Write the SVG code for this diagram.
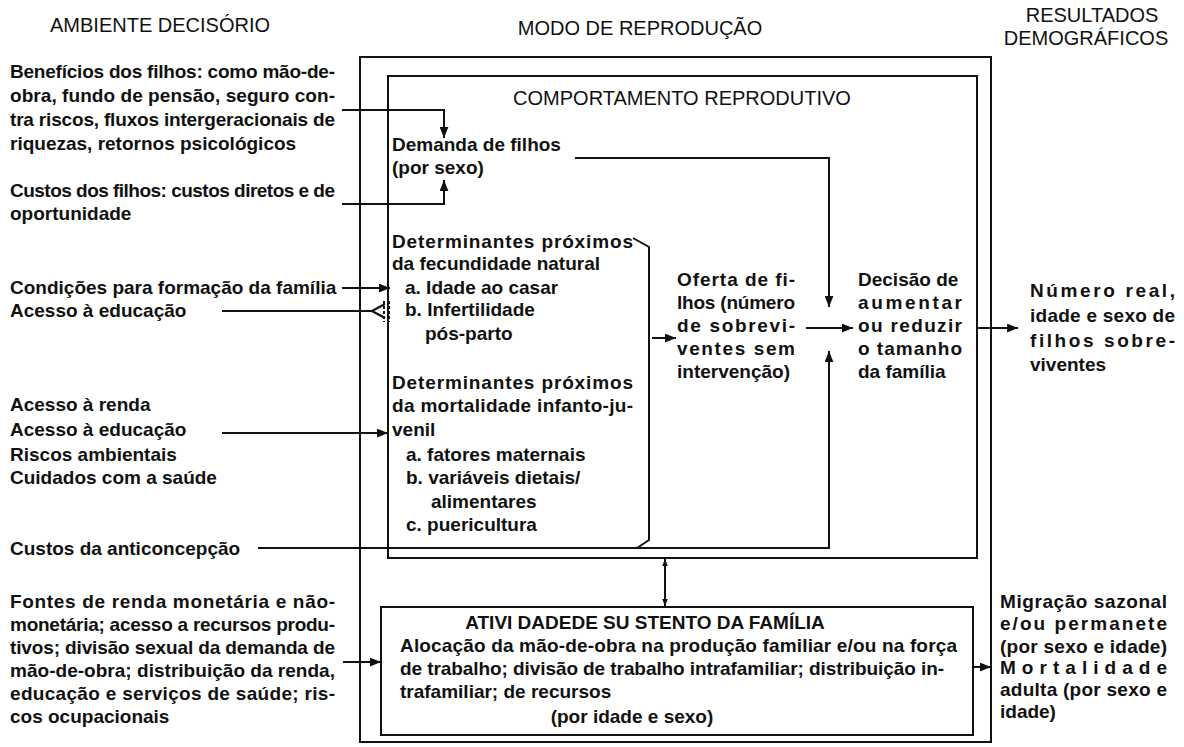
<svg xmlns="http://www.w3.org/2000/svg" width="1184" height="747" viewBox="0 0 1184 747">
<style>
text{font-family:"Liberation Sans",Arial,Helvetica,sans-serif;fill:#111}
.t{font-size:20px}
.b{font-size:19px;font-weight:bold}
.box{fill:none;stroke:#111;stroke-width:2}
.c{fill:none;stroke:#111;stroke-width:2}
</style>
<defs>
<marker id="ah" viewBox="0 0 10 8" refX="10" refY="4" markerWidth="11" markerHeight="9" markerUnits="userSpaceOnUse" orient="auto-start-reverse"><path d="M0,0 L10,4 L0,8 z" fill="#111"/></marker>
<marker id="sm" viewBox="0 0 10 8" refX="10" refY="4" markerWidth="7" markerHeight="6" markerUnits="userSpaceOnUse" orient="auto-start-reverse"><path d="M0,0 L10,4 L0,8 z" fill="#111"/></marker>
</defs>
<rect width="1184" height="747" fill="#fff"/>

<g id="titles">
<text class="t" x="160" y="32" text-anchor="middle">AMBIENTE DECISÓRIO</text>
<text class="t" x="640" y="35" text-anchor="middle">MODO DE REPRODUÇÃO</text>
<text class="t" x="1092" y="22" text-anchor="middle">RESULTADOS</text>
<text class="t" x="1086" y="45" text-anchor="middle">DEMOGRÁFICOS</text>
</g>

<g id="modo-reproducao"><rect class="box" x="360" y="57" width="631" height="685"/></g>

<g id="comportamento-reprodutivo">
<rect class="box" x="388" y="76" width="589" height="482"/>
<text class="t" x="682" y="105" text-anchor="middle">COMPORTAMENTO REPRODUTIVO</text>
</g>

<g id="beneficios">
<text class="b" x="10" y="78" textLength="325" lengthAdjust="spacing">Benefícios dos filhos: como mão-de-</text>
<text class="b" x="10" y="102" textLength="325" lengthAdjust="spacing">obra, fundo de pensão, seguro con-</text>
<text class="b" x="10" y="126" textLength="325" lengthAdjust="spacing">tra riscos, fluxos intergeracionais de</text>
<text class="b" x="10" y="150">riquezas, retornos psicológicos</text>
</g>
<g id="custos-filhos">
<text class="b" x="10" y="197" textLength="325" lengthAdjust="spacing">Custos dos filhos: custos diretos e de</text>
<text class="b" x="10" y="220">oportunidade</text>
</g>
<g id="condicoes"><text class="b" x="10" y="294">Condições para formação da família</text></g>
<g id="acesso-educacao-1"><text class="b" x="10" y="317">Acesso à educação</text></g>
<g id="acesso-renda-grupo">
<text class="b" x="10" y="411">Acesso à renda</text>
<text class="b" x="10" y="436">Acesso à educação</text>
<text class="b" x="10" y="461">Riscos ambientais</text>
<text class="b" x="10" y="484">Cuidados com a saúde</text>
</g>
<g id="custos-anticoncepcao"><text class="b" x="10" y="555">Custos da anticoncepção</text></g>
<g id="fontes-renda">
<text class="b" x="10" y="608" textLength="325" lengthAdjust="spacing">Fontes de renda monetária e não-</text>
<text class="b" x="10" y="631" textLength="325" lengthAdjust="spacing">monetária; acesso a recursos produ-</text>
<text class="b" x="10" y="654" textLength="325" lengthAdjust="spacing">tivos; divisão sexual da demanda de</text>
<text class="b" x="10" y="677" textLength="325" lengthAdjust="spacing">mão-de-obra; distribuição da renda,</text>
<text class="b" x="10" y="700" textLength="325" lengthAdjust="spacing">educação e  serviços de saúde; ris-</text>
<text class="b" x="10" y="723">cos ocupacionais</text>
</g>

<g id="demanda">
<text class="b" x="392" y="151">Demanda de filhos</text>
<text class="b" x="392" y="174">(por sexo)</text>
</g>
<g id="fecundidade">
<text class="b" x="392" y="248" textLength="241" lengthAdjust="spacing">Determinantes próximos</text>
<text class="b" x="392" y="270">da fecundidade natural</text>
<text class="b" x="405" y="294">a. Idade ao casar</text>
<text class="b" x="405" y="316">b. Infertilidade</text>
<text class="b" x="425" y="340">pós-parto</text>
</g>
<g id="mortalidade">
<text class="b" x="392" y="389" textLength="241" lengthAdjust="spacing">Determinantes próximos</text>
<text class="b" x="392" y="412" textLength="241" lengthAdjust="spacing">da mortalidade infanto-ju-</text>
<text class="b" x="392" y="436">venil</text>
<text class="b" x="406" y="461">a. fatores maternais</text>
<text class="b" x="406" y="484">b. variáveis dietais/</text>
<text class="b" x="431" y="508">alimentares</text>
<text class="b" x="406" y="531">c. puericultura</text>
</g>
<g id="oferta">
<text class="b" x="677" y="286" textLength="118" lengthAdjust="spacing">Oferta de fi-</text>
<text class="b" x="677" y="309" textLength="118" lengthAdjust="spacing">lhos (número</text>
<text class="b" x="677" y="332" textLength="118" lengthAdjust="spacing">de sobrevi-</text>
<text class="b" x="677" y="355" textLength="118" lengthAdjust="spacing">ventes sem</text>
<text class="b" x="677" y="378">intervenção)</text>
</g>
<g id="decisao">
<text class="b" x="858" y="286">Decisão de</text>
<text class="b" x="858" y="309" textLength="104" lengthAdjust="spacing">aumentar</text>
<text class="b" x="858" y="332" textLength="104" lengthAdjust="spacing">ou reduzir</text>
<text class="b" x="858" y="355" textLength="104" lengthAdjust="spacing">o tamanho</text>
<text class="b" x="858" y="378">da família</text>
</g>
<g id="numero-real">
<text class="b" x="1030" y="297" textLength="145" lengthAdjust="spacing">Número real,</text>
<text class="b" x="1030" y="322" textLength="145" lengthAdjust="spacing">idade e sexo de</text>
<text class="b" x="1030" y="347" textLength="145" lengthAdjust="spacing">filhos sobre-</text>
<text class="b" x="1030" y="371">viventes</text>
</g>
<g id="atividade-sustento">
<rect class="box" x="381" y="607" width="592" height="128"/>
<text class="b" x="645" y="629" text-anchor="middle">ATIVI DADEDE SU STENTO DA FAMÍLIA</text>
<text class="b" x="400" y="652" textLength="557" lengthAdjust="spacing">Alocação da mão-de-obra na produção familiar e/ou na força</text>
<text class="b" x="400" y="675" textLength="544" lengthAdjust="spacing">de trabalho; divisão de trabalho intrafamiliar; distribuição in-</text>
<text class="b" x="400" y="698">trafamiliar; de recursos</text>
<text class="b" x="632" y="723" text-anchor="middle">(por idade e sexo)</text>
</g>
<g id="migracao">
<text class="b" x="1000" y="608" textLength="167" lengthAdjust="spacing">Migração sazonal</text>
<text class="b" x="1000" y="630" textLength="167" lengthAdjust="spacing">e/ou permanete</text>
<text class="b" x="1000" y="653" textLength="167" lengthAdjust="spacing">(por sexo e idade)</text>
<text class="b" x="1000" y="674" textLength="167" lengthAdjust="spacing">Mortalidade</text>
<text class="b" x="1000" y="696" textLength="167" lengthAdjust="spacing">adulta (por sexo e</text>
<text class="b" x="1000" y="718">idade)</text>
</g>

<g id="connectors">
<path class="c" d="M342,110 H444 V138" marker-end="url(#ah)"/>
<path class="c" d="M342,204 H444 V180" marker-end="url(#ah)"/>
<path class="c" d="M575,158 H829 V307" marker-end="url(#ah)"/>
<path class="c" d="M258,548 H829 V351" marker-end="url(#ah)"/>
<path class="c" d="M806,328 H853" marker-end="url(#ah)"/>
<path class="c" d="M633,238 L649,247 V540 L637,548"/>
<path class="c" d="M652,338 H676" marker-end="url(#ah)"/>
<path class="c" d="M342,288 H390" marker-end="url(#ah)"/>
<path class="c" d="M222,311 H372 M372,311 L385,304 M372,311 L385,318"/>
<path class="c" d="M384,301 V322 M389,301 V322" stroke-dasharray="3 2"/>
<path class="c" d="M222,433 H388" marker-end="url(#ah)"/>
<path class="c" d="M977,328 H1018" marker-end="url(#ah)"/>
<path class="c" d="M665,559 V606" marker-start="url(#sm)" marker-end="url(#sm)"/>
<path class="c" d="M343,662 H381" marker-end="url(#ah)"/>
<path class="c" d="M973,667 H991" marker-end="url(#ah)"/>
</g>
</svg>
